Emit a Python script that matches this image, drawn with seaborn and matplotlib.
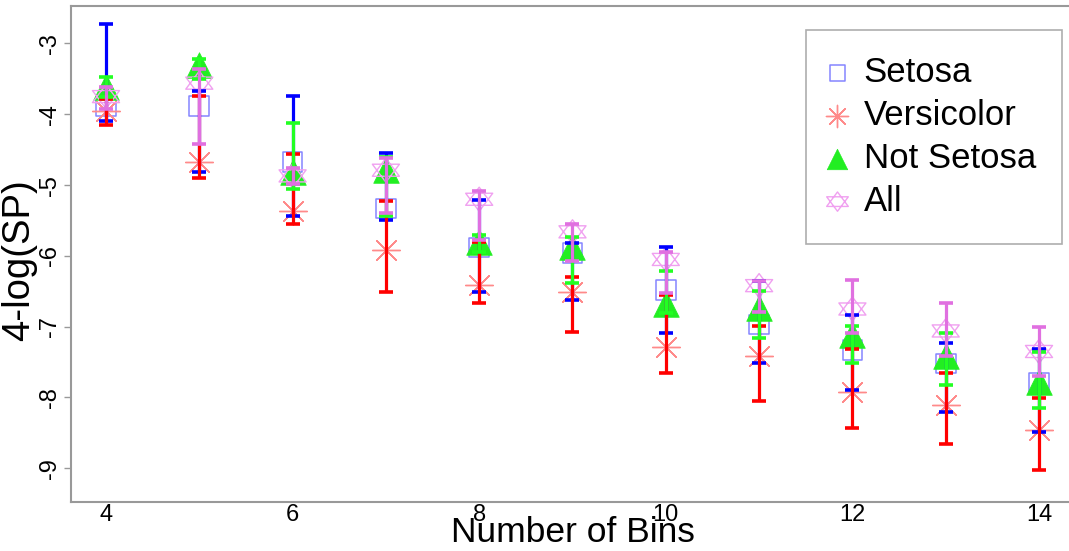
import numpy as np
import matplotlib
matplotlib.use("Agg")
import matplotlib.pyplot as plt
from matplotlib.path import Path
import seaborn as sns

# ---------------- data ----------------
bins = [4, 5, 6, 7, 8, 9, 10, 11, 12, 13, 14]

setosa_mean = [-3.89, -3.88, -4.67, -5.33, -5.88, -5.96, -6.48, -6.97, -7.33, -7.52, -7.79]
setosa_lo   = [-4.10, -4.81, -5.43, -5.50, -6.51, -6.62, -7.09, -7.51, -7.89, -8.20, -8.49]
setosa_hi   = [-2.73, -3.67, -3.74, -4.54, -5.21, -5.82, -5.88, -6.36, -6.83, -7.23, -7.31]

versicolor_mean = [-3.96, -4.67, -5.36, -5.91, -6.41, -6.51, -7.28, -7.41, -7.92, -8.10, -8.46]
versicolor_lo   = [-4.15, -4.90, -5.55, -6.51, -6.66, -7.08, -7.66, -8.05, -8.43, -8.66, -9.03]
versicolor_hi   = [-3.78, -3.74, -4.56, -5.23, -5.80, -6.30, -6.55, -6.99, -7.31, -7.66, -8.01]

notsetosa_mean = [-3.61, -3.30, -4.81, -4.79, -5.80, -5.87, -6.68, -6.74, -7.12, -7.42, -7.78]
notsetosa_lo   = [-3.75, -3.50, -5.05, -5.43, -5.94, -6.38, -6.80, -7.16, -7.51, -7.83, -8.15]
notsetosa_hi   = [-3.47, -3.22, -4.12, -4.60, -5.70, -5.74, -6.21, -6.50, -6.99, -7.09, -7.36]

all_mean = [-3.75, -3.56, -4.87, -4.79, -5.20, -5.66, -6.05, -6.42, -6.75, -7.06, -7.35]
all_lo   = [-3.92, -4.42, -4.98, -5.39, -5.77, -6.07, -6.52, -6.79, -7.09, -7.41, -7.69]
all_hi   = [-3.62, -3.36, -4.76, -4.62, -5.08, -5.55, -5.94, -6.35, -6.34, -6.67, -7.01]

series_names = ["Setosa", "Versicolor", "Not Setosa", "All"]
x_ticks = [4, 6, 8, 10, 12, 14]
y_ticks = [-3, -4, -5, -6, -7, -8, -9]
x_label = "Number of Bins"
y_label = "4-log(SP)"

# ---------------- style ----------------
sns.set_style("white")
plt.rcParams["font.family"] = ["Liberation Sans", "DejaVu Sans"]
plt.rcParams["text.color"] = "black"
plt.rcParams["axes.labelcolor"] = "black"
plt.rcParams["xtick.color"] = "black"
plt.rcParams["ytick.color"] = "black"

# hexagram marker (two overlapping triangles), slightly wider than tall
w, h = 1.0, 0.89
hex_verts = [(0, h), (-w, -h / 2), (w, -h / 2), (0, h),
             (0, -h), (-w, h / 2), (w, h / 2), (0, -h)]
hex_codes = [Path.MOVETO, Path.LINETO, Path.LINETO, Path.CLOSEPOLY,
             Path.MOVETO, Path.LINETO, Path.LINETO, Path.CLOSEPOLY]
hexagram = Path(hex_verts, hex_codes)

fig = plt.figure(figsize=(10.69, 5.51), dpi=100)
ax = fig.add_axes([71 / 1069, 1 - 501.7 / 551, 1 - 71 / 1069, (501.7 - 6) / 551])

means = [setosa_mean, versicolor_mean, notsetosa_mean, all_mean]
los = [setosa_lo, versicolor_lo, notsetosa_lo, all_lo]
his = [setosa_hi, versicolor_hi, notsetosa_hi, all_hi]

marker_styles = [
    dict(marker="s", s=200, facecolor="none", edgecolor="#8585ff", linewidth=1.1),
    dict(marker=(8, 2, 0), s=400, color="#ff8a8a", linewidth=1.0),
    dict(marker="^", s=340, facecolor="#22ee22", edgecolor="#22ee22", linewidth=0.5),
    dict(marker=hexagram, s=380, facecolor="none", edgecolor="#f0a0f0", linewidth=1.0),
]
bar_colors = ["#0000ff", "#ff0000", "#22ff22", "#e070e0"]

for name, m, st in zip(series_names, means, marker_styles):
    sns.scatterplot(x=bins, y=m, ax=ax, label=name, zorder=2, legend=False, **st)

for m, lo, hi, c in zip(means, los, his, bar_colors):
    m_a = np.asarray(m); lo_a = np.asarray(lo); hi_a = np.asarray(hi)
    ax.errorbar(bins, m_a, yerr=[m_a - lo_a, hi_a - m_a], fmt="none",
                ecolor=c, elinewidth=2.3, capsize=4.7, capthick=2.6, zorder=3)

# ---------------- axes ----------------
ax.set_xlim(3.625, 4 + (1069 - 106) / 93.3)
ax.set_ylim(-3 - (501.7 - 43.5) / 70.8, -3 + (43.5 - 6) / 70.8)
ax.set_xticks(x_ticks)
ax.set_yticks(y_ticks)
ax.set_yticklabels([str(v) for v in y_ticks], rotation=90, va="center")
ax.tick_params(axis="x", length=0, pad=1.5, labelsize=17, labelcolor="black")
ax.tick_params(axis="y", length=5, width=1, color="#999999", pad=2,
               labelsize=17, labelcolor="black", left=True)
for side in ["left", "bottom", "top"]:
    ax.spines[side].set_color("#999999")
    ax.spines[side].set_linewidth(1.5)
ax.spines["right"].set_visible(False)

ax.set_xlabel(x_label, fontsize=25.5, color="black")
ax.set_ylabel(y_label, fontsize=27.5, color="black")
ax.xaxis.set_label_coords(0.503, -0.028)
ax.xaxis.label.set_va("top")
ax.yaxis.set_label_coords(-0.034, 0.488)

fs = 25
leg = ax.legend(loc="upper right", bbox_to_anchor=(1062 / 1069, 1 - 30 / 551),
                bbox_transform=fig.transFigure, borderaxespad=0, fontsize=fs,
                frameon=True, fancybox=False, edgecolor="#999999",
                labelspacing=0.285, handletextpad=0.61, borderpad=0.75,
                markerscale=0.8, handlelength=0.29)
leg.get_frame().set_linewidth(1.2)

fig.savefig("out.png", dpi=100, facecolor="white")
